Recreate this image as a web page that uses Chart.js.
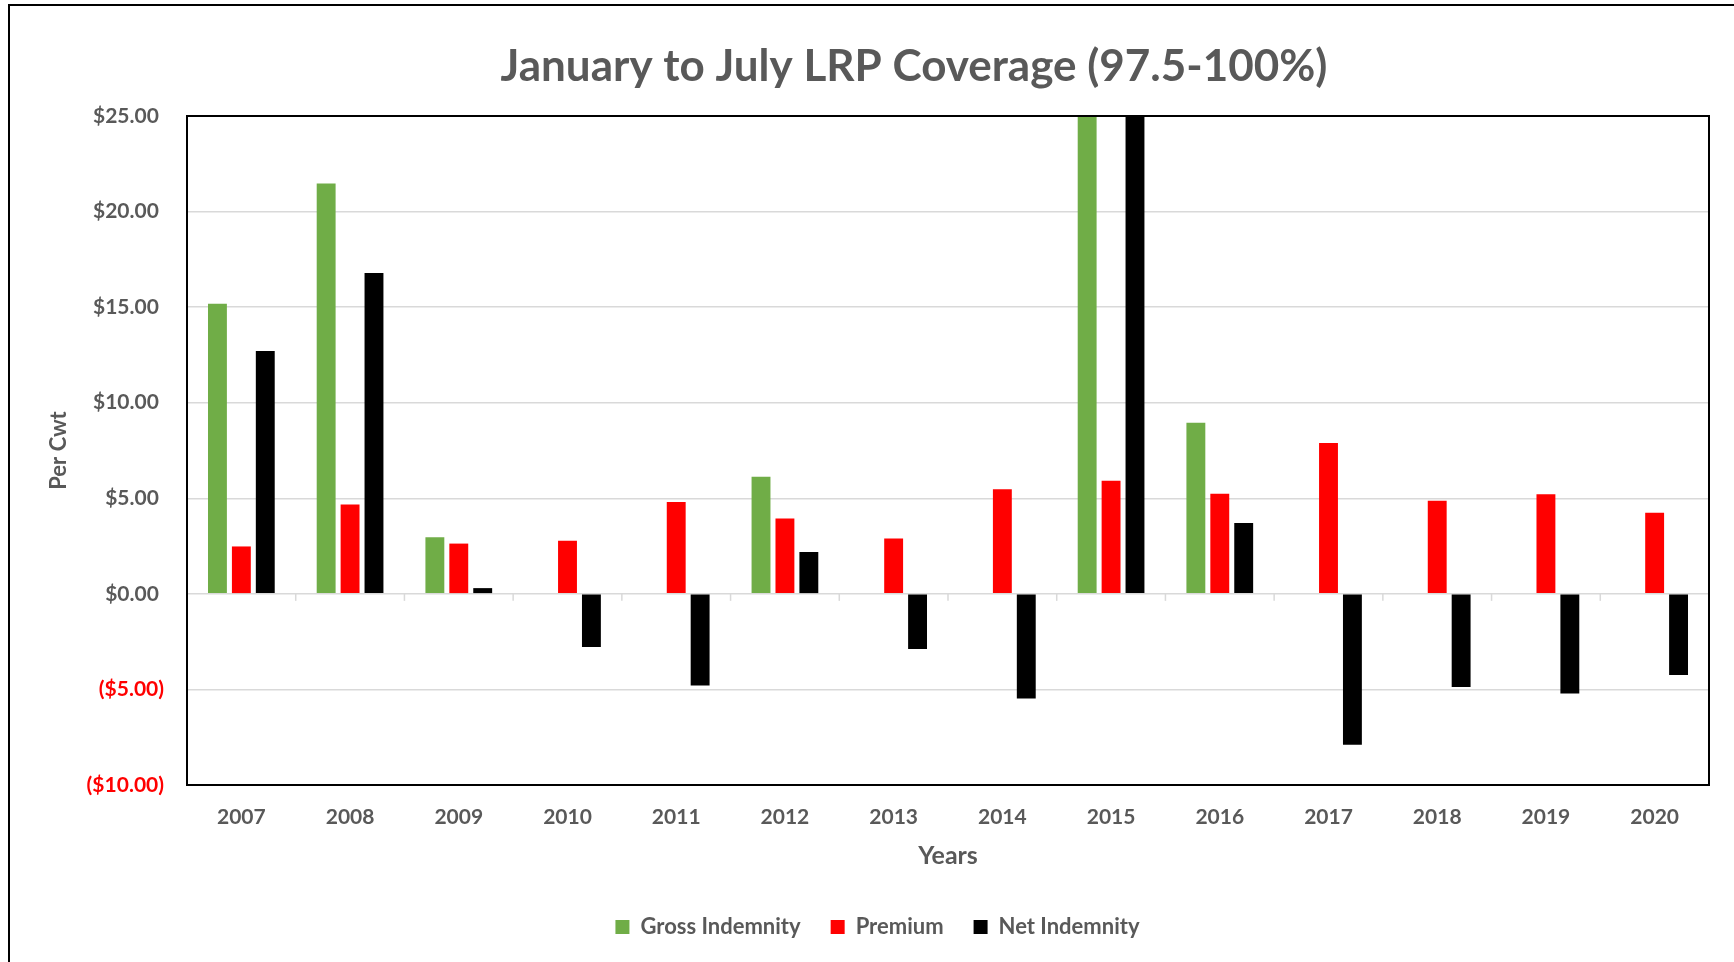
<!DOCTYPE html>
<html>
<head>
<meta charset="utf-8">
<script src="https://cdn.jsdelivr.net/npm/chart.js@4.4.1/dist/chart.umd.min.js"></script>
<style>
  html, body { margin: 0; padding: 0; background: #fff; overflow: hidden; }
  #wrap { position: relative; width: 1734px; height: 962px; }
  #frame { position: absolute; left: 8px; top: 4px; right: -10px; bottom: -10px;
           border-left: 2px solid #000; border-top: 2px solid #000; pointer-events: none; }
</style>
</head>
<body>
<div id="wrap">
  <canvas id="chartCanvas"></canvas>
  <div id="frame"></div>
</div>
<script>
const years = ["2007", "2008", "2009", "2010", "2011", "2012", "2013",
               "2014", "2015", "2016", "2017", "2018", "2019", "2020"];
const grossIndemnity = [15.18, 21.47, 2.96, 0, 0, 6.13, 0, 0, 31.5, 8.95, 0, 0, 0, 0];
const premium = [2.48, 4.68, 2.63, 2.78, 4.80, 3.94, 2.89, 5.47, 5.92, 5.24, 7.89, 4.87, 5.21, 4.24];
const netIndemnity = [12.70, 16.79, 0.30, -2.78, -4.80, 2.19, -2.89, -5.47, 25.58, 3.71, -7.89, -4.87, -5.21, -4.24];

const chartTitle = "January to July LRP Coverage (97.5-100%)";
const gray = "#595959";
const fontName = "Lato, 'Open Sans', sans-serif";

// plot frame, small tick marks on the zero line, title
const extras = {
  id: "extras",
  afterDatasetsDraw(chart) {
    const { ctx, chartArea, scales } = chart;
    const y0 = scales.y.getPixelForValue(0);
    const n = years.length;
    ctx.save();
    ctx.strokeStyle = "#d9d9d9";
    ctx.lineWidth = 1.5;
    for (let i = 0; i <= n; i++) {
      let x;
      if (i === 0) x = chartArea.left;
      else if (i === n) x = chartArea.right;
      else x = (scales.x.getPixelForValue(i - 1) + scales.x.getPixelForValue(i)) / 2;
      ctx.beginPath();
      ctx.moveTo(x, y0);
      ctx.lineTo(x, y0 + 7);
      ctx.stroke();
    }
    ctx.strokeStyle = "#000";
    ctx.lineWidth = 2;
    ctx.strokeRect(chartArea.left, chartArea.top, chartArea.right - chartArea.left, chartArea.bottom - chartArea.top);
    ctx.restore();
  },
  afterDraw(chart) {
    const ctx = chart.ctx;
    ctx.save();
    ctx.font = "bold 44px " + fontName;
    ctx.fillStyle = gray;
    ctx.textAlign = "center";
    ctx.textBaseline = "middle";
    ctx.fillText(chartTitle, 914, 67);
    ctx.restore();
  }
};

const chart = new Chart(document.getElementById("chartCanvas"), {
  type: "bar",
  data: {
    labels: years,
    datasets: [
      { label: "Gross Indemnity", data: grossIndemnity, backgroundColor: "#70ad47" },
      { label: "Premium", data: premium, backgroundColor: "#ff0000" },
      { label: "Net Indemnity", data: netIndemnity, backgroundColor: "#000000" }
    ]
  },
  options: {
    responsive: true,
    maintainAspectRatio: false,
    animation: false,
    datasets: { bar: { categoryPercentage: 0.66, barPercentage: 0.79 } },
    layout: { padding: { top: 116, right: 25, left: 46, bottom: 14 } },
    plugins: {
      title: { display: false },
      tooltip: { enabled: false },
      legend: {
        position: "bottom",
        labels: {
          boxWidth: 14,
          boxHeight: 14,
          padding: 30,
          color: gray,
          font: { family: fontName, size: 22, weight: "bold" }
        }
      }
    },
    scales: {
      x: {
        grid: { display: false, drawTicks: false },
        border: { display: false },
        ticks: { color: gray, padding: 20, font: { family: fontName, size: 21, weight: "bold" } },
        title: {
          display: true, text: "Years", color: gray,
          padding: { top: 0, bottom: 15 },
          font: { family: fontName, size: 25, weight: "bold" }
        },
        afterFit(scale) { scale.height = 101; }
      },
      y: {
        min: -10,
        max: 25,
        grid: { color: "#d9d9d9", lineWidth: 1.5, drawTicks: false },
        border: { display: false },
        ticks: {
          stepSize: 5,
          padding: 23,
          font: { family: fontName, size: 21, weight: "bold" },
          color: (c) => (c.tick && c.tick.value < 0 ? "#ff0000" : gray),
          callback: (v) => (v < 0 ? "($" + Math.abs(v).toFixed(2) + ")" : "$" + v.toFixed(2) + " ")
        },
        title: {
          display: true, text: "Per Cwt", color: gray,
          padding: { top: 0, bottom: 0 },
          font: { family: fontName, size: 22, weight: "bold" }
        },
        afterFit(scale) { scale.width = 141; }
      }
    }
  },
  plugins: [extras]
});
</script>
</body>
</html>
